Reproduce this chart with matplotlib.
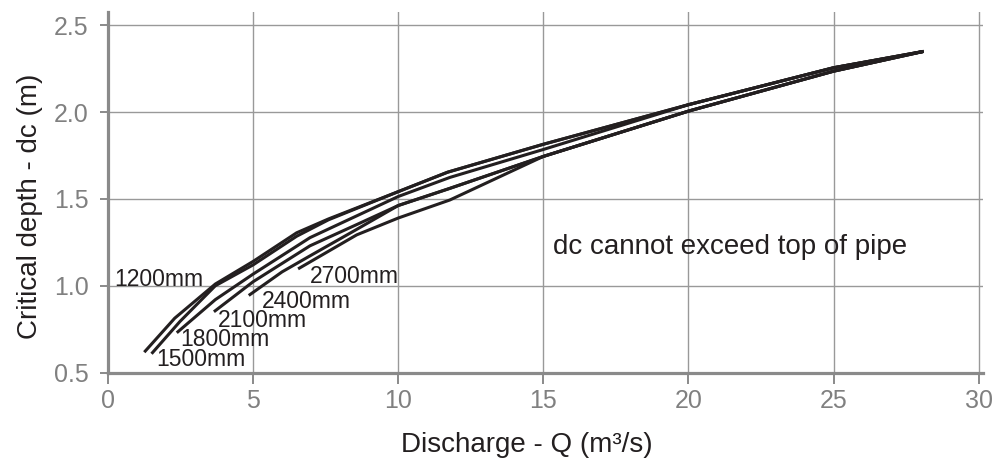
import matplotlib
matplotlib.use("Agg")
import matplotlib.pyplot as plt

plt.rcParams['font.family'] = ['Liberation Sans', 'DejaVu Sans']

# pipe diameters and their critical depth curves
pipe_labels = ["1200mm", "1500mm", "1800mm", "2100mm", "2400mm", "2700mm"]

q_1200 = [1.25, 2.3, 3.7, 5.0, 6.5, 7.6, 10.0, 11.7, 15.0, 20.0, 25.0, 28.1]
d_1200 = [0.617, 0.813, 1.01, 1.14, 1.305, 1.385, 1.542, 1.654, 1.815, 2.043, 2.256, 2.35]

q_1500 = [1.5, 2.48, 3.7, 5.0, 6.5, 7.6, 10.0, 11.7, 15.0, 20.0, 25.0, 28.1]
d_1500 = [0.608, 0.794, 1.0, 1.12, 1.285, 1.38, 1.542, 1.654, 1.815, 2.043, 2.256, 2.35]

q_1800 = [2.37, 3.7, 5.0, 6.96, 10.0, 11.78, 15.0, 20.0, 25.0, 28.1]
d_1800 = [0.729, 0.92, 1.067, 1.277, 1.514, 1.624, 1.785, 2.043, 2.256, 2.35]

q_2100 = [3.65, 5.0, 6.96, 8.5, 10.0, 11.78, 15.0, 20.0, 25.0, 28.1]
d_2100 = [0.85, 1.023, 1.23, 1.347, 1.462, 1.561, 1.745, 2.006, 2.236, 2.35]

q_2400 = [4.85, 6.0, 6.96, 8.5, 10.0, 11.78, 15.0, 20.0, 25.0, 28.1]
d_2400 = [0.944, 1.08, 1.172, 1.318, 1.462, 1.561, 1.745, 2.006, 2.236, 2.35]

q_2700 = [6.55, 8.57, 10.0, 11.78, 15.0, 20.0, 25.0, 28.1]
d_2700 = [1.097, 1.293, 1.39, 1.494, 1.745, 2.006, 2.236, 2.35]

# where each curve label sits (left edge, vertical centre)
label_q = [0.2, 1.65, 2.5, 3.8, 5.3, 6.95]
label_d = [1.033, 0.573, 0.688, 0.80, 0.912, 1.053]

x_ticks = [0, 5, 10, 15, 20, 25, 30]
y_ticks = [0.5, 1.0, 1.5, 2.0, 2.5]

ink = "#231f20"
grey = "#8a8a8a"

fig = plt.figure(figsize=(9.98, 4.62), dpi=100)
ax = fig.add_axes([0.1082, 0.1937, 0.8768, 0.7803])

curves = [(q_1200, d_1200), (q_1500, d_1500), (q_1800, d_1800),
          (q_2100, d_2100), (q_2400, d_2400), (q_2700, d_2700)]
for (q, d) in curves:
    ax.plot(q, d, color=ink, lw=2.2, solid_joinstyle="round", solid_capstyle="butt", zorder=3)

for name, lq, ld in zip(pipe_labels, label_q, label_d):
    ax.text(lq, ld, name, fontsize=16.5, color=ink, ha="left", va="center", zorder=4)

ax.text(15.33, 1.226, "dc cannot exceed top of pipe", fontsize=20, color=ink,
        ha="left", va="center")

ax.set_xlim(0, 30.15)
ax.set_ylim(0.5, 2.577)
ax.set_xticks(x_ticks)
ax.set_yticks(y_ticks)
ax.set_yticklabels([f"{v:.1f}" for v in y_ticks])
ax.grid(True, color="#999999", lw=1.0)
ax.set_axisbelow(True)

for side in ["top", "right"]:
    ax.spines[side].set_visible(False)
for side in ["left", "bottom"]:
    ax.spines[side].set_color(grey)
    ax.spines[side].set_linewidth(2.3)

ax.tick_params(axis="x", direction="out", length=8, width=1.4, color=grey,
               labelcolor="#808080", labelsize=18, pad=4)
ax.tick_params(axis="y", direction="out", length=6, width=1.4, color=grey,
               labelcolor="#808080", labelsize=18, pad=8)

ax.set_xlabel("Discharge - Q (m³/s)", fontsize=20, color=ink, va="center")
ax.set_ylabel("Critical depth - dc (m)", fontsize=20, color=ink, va="center")
ax.xaxis.set_label_coords(0.479, -0.2)
ax.yaxis.set_label_coords(-0.089, 0.46)

fig.savefig("out.png", dpi=100)
